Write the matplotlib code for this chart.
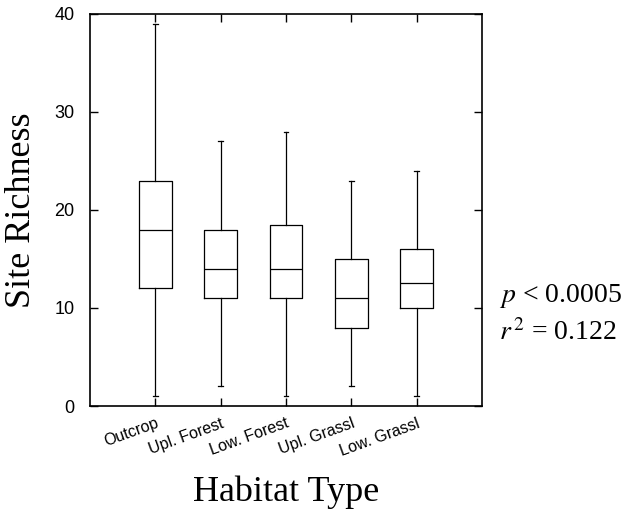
import matplotlib.pyplot as plt

# Box summary per habitat: whisker low, Q1, median, Q3, whisker high
habitats = ["Outcrop", "Upl. Forest", "Low. Forest", "Upl. Grassl", "Low. Grassl"]
whislo = [1, 2, 1, 2, 1]
q1 = [12, 11, 11, 8, 10]
med = [18, 14, 14, 11, 12.6]
q3 = [23, 18, 18.5, 15, 16]
whishi = [39, 27, 28, 23, 24]

stats = [dict(label=h, whislo=lo, q1=a, med=m, q3=b, whishi=hi, fliers=[])
         for h, lo, a, m, b, hi in zip(habitats, whislo, q1, med, q3, whishi)]

fig = plt.figure(figsize=(6.26, 5.17), dpi=100)
ax = fig.add_axes([0.1438, 0.2147, 0.6262, 0.7583])

line = dict(color='black', linewidth=0.9)
ax.bxp(stats, positions=range(1, 6), widths=0.5, capwidths=0.07,
       boxprops=line, whiskerprops=line, capprops=line,
       medianprops=line, showfliers=False)

ax.set_xlim(0, 6)
ax.set_ylim(0, 40)
ax.set_yticks([0, 10, 20, 30, 40])
ax.set_xticks(range(1, 6))
ax.set_xticklabels(habitats, rotation=20, ha='right', rotation_mode='anchor',
                   fontsize=11.5, family='Liberation Sans')
for lbl in ax.get_yticklabels():
    lbl.set_family('Liberation Sans')
ax.tick_params(axis='y', direction='in', length=6, width=1, pad=11,
               labelsize=13, right=True, labelright=False)
ax.tick_params(axis='x', direction='in', length=6, width=1, pad=7,
               top=True, labeltop=False)
for s in ax.spines.values():
    s.set_linewidth(1.2)

ax.set_ylabel("Site Richness", family='Liberation Serif', fontsize=26, labelpad=12)
ax.set_xlabel("Habitat Type", family='Liberation Serif', fontsize=26, labelpad=12)

fig.text(0.797, 0.428, r"$p$ < 0.0005", family='Liberation Serif', fontsize=20,
         math_fontfamily='stix', ha='left', va='center')
fig.text(0.797, 0.356, r"$r\,^{2}$ = 0.122", family='Liberation Serif', fontsize=20,
         math_fontfamily='stix', ha='left', va='center')

fig.savefig("out.png", dpi=100)
